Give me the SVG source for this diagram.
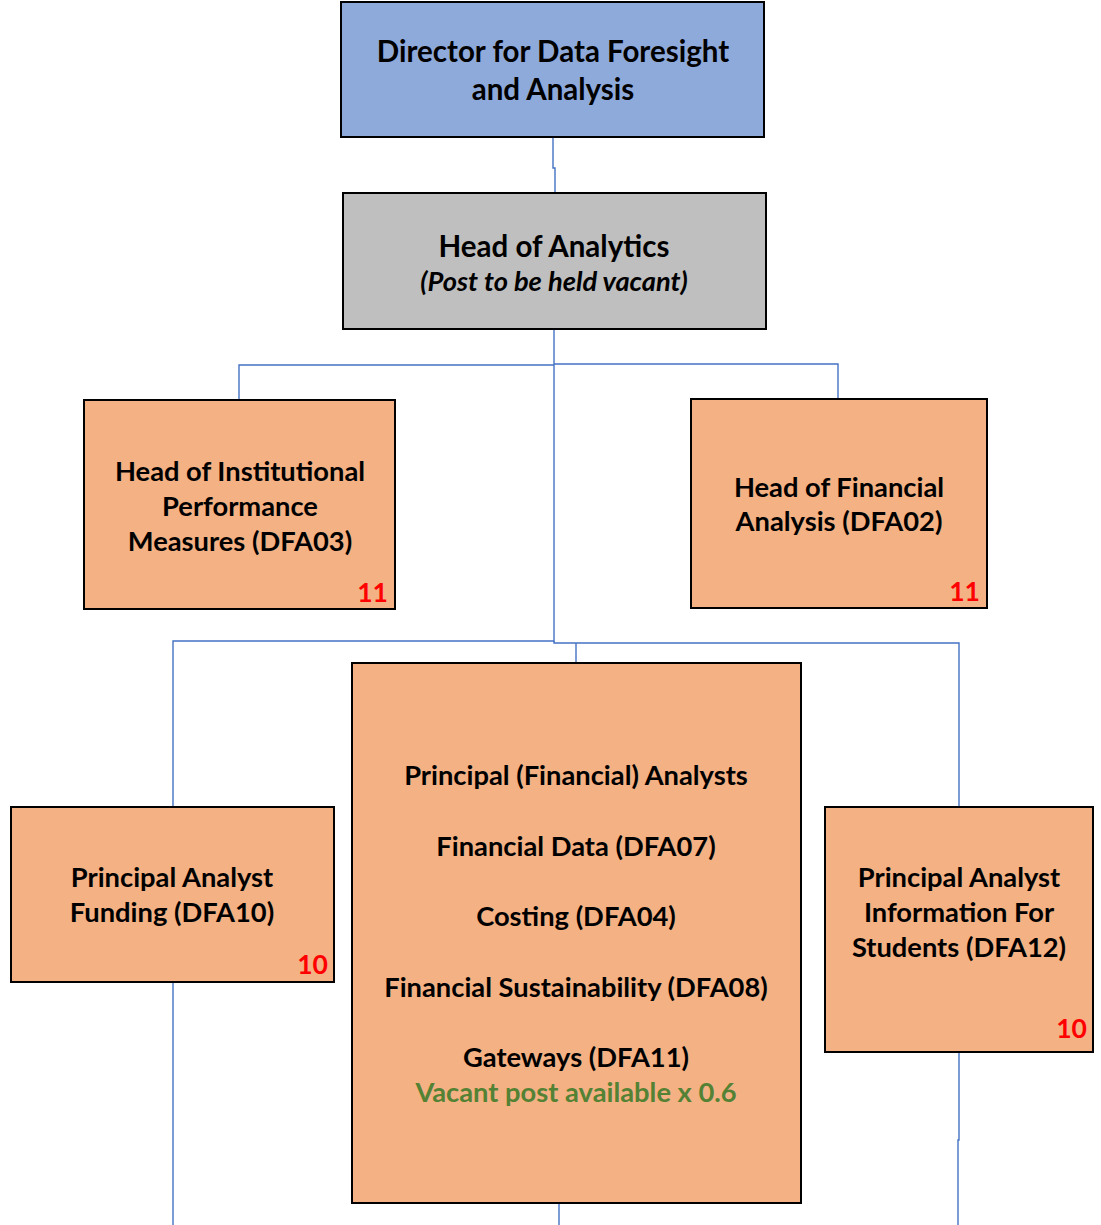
<svg xmlns="http://www.w3.org/2000/svg" width="1101" height="1225" viewBox="0 0 1101 1225">
<style>
.box{stroke:#000;stroke-width:2}
.t{font-family:Lato,"Open Sans","Liberation Sans",sans-serif;font-weight:bold;font-size:27.3px;fill:#000;text-anchor:middle}
.big{font-size:29.5px}
.num{font-family:Lato,"Liberation Sans",sans-serif;font-weight:bold;font-size:26.5px;fill:#ff0000;text-anchor:end}
.green{fill:#548235}
.c{fill:none;stroke:#4472c4;stroke-width:1.4}
</style>
<rect width="1101" height="1225" fill="#fff"/>
<g id="connectors">
<polyline class="c" points="553,137 553,168 555,168 555,193"/>
<line class="c" x1="554" y1="329" x2="554" y2="642"/>
<polyline class="c" points="554,365 239,365 239,400"/>
<polyline class="c" points="554,364 838,364 838,399"/>
<polyline class="c" points="554,641 173,641 173,807"/>
<polyline class="c" points="554,641 554,643 959,643 959,807"/>
<line class="c" x1="576" y1="643" x2="576" y2="663"/>
<line class="c" x1="173" y1="982" x2="173" y2="1225"/>
<line class="c" x1="559" y1="1203" x2="559" y2="1225"/>
<polyline class="c" points="959,1052 959,1140 958,1140 958,1225"/>
</g>
<g id="director">
<rect class="box" x="341" y="2" width="423" height="135" fill="#8eaadb"/>
<text class="t big" x="553" y="62">Director for Data Foresight</text>
<text class="t big" x="553" y="100">and Analysis</text>
</g>
<g id="head-analytics">
<rect class="box" x="343" y="193" width="423" height="136" fill="#bfbfbf"/>
<text class="t big" x="554" y="257">Head of Analytics</text>
<text class="t" x="554" y="291" font-style="italic">(Post to be held vacant)</text>
</g>
<g id="head-ipm">
<rect class="box" x="84" y="400" width="311" height="209" fill="#f4b183"/>
<text class="t" x="240" y="481">Head of Institutional</text>
<text class="t" x="240" y="516">Performance</text>
<text class="t" x="240" y="551">Measures (DFA03)</text>
<text class="num" x="388" y="602">11</text>
</g>
<g id="head-fa">
<rect class="box" x="691" y="399" width="296" height="209" fill="#f4b183"/>
<text class="t" x="839" y="497">Head of Financial</text>
<text class="t" x="839" y="531">Analysis (DFA02)</text>
<text class="num" x="980" y="601">11</text>
</g>
<g id="pa-funding">
<rect class="box" x="11" y="807" width="323" height="175" fill="#f4b183"/>
<text class="t" x="172" y="887">Principal Analyst</text>
<text class="t" x="172" y="922">Funding (DFA10)</text>
<text class="num" x="328" y="974">10</text>
</g>
<g id="principal-financial">
<rect class="box" x="352" y="663" width="449" height="540" fill="#f4b183"/>
<text class="t" x="576" y="785">Principal (Financial) Analysts</text>
<text class="t" x="576" y="856">Financial Data (DFA07)</text>
<text class="t" x="576" y="926">Costing (DFA04)</text>
<text class="t" x="576" y="997">Financial Sustainability (DFA08)</text>
<text class="t" x="576" y="1067">Gateways (DFA11)</text>
<text class="t green" x="576" y="1102">Vacant post available x 0.6</text>
</g>
<g id="pa-students">
<rect class="box" x="825" y="807" width="268" height="245" fill="#f4b183"/>
<text class="t" x="959" y="887">Principal Analyst</text>
<text class="t" x="959" y="922">Information For</text>
<text class="t" x="959" y="957">Students (DFA12)</text>
<text class="num" x="1087" y="1038">10</text>
</g>
</svg>
